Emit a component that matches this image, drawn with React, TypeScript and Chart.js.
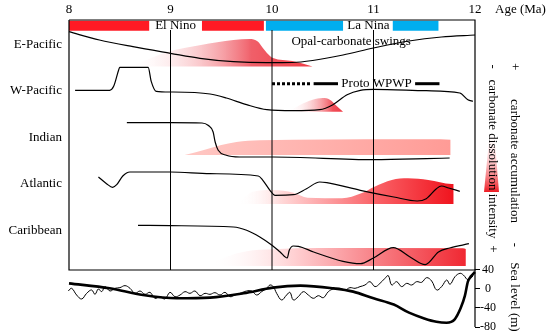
import React, { useEffect, useRef } from "react";
import { Chart, registerables } from "chart.js";
Chart.register(...registerables);

// ---------- data ----------
const AGE_TICKS = [8, 9, 10, 11, 12];
const SEA_TICKS = [40, 0, -40, -80];
const GRID_AGES = [9, 10, 11];

const REGIONS = ["E-Pacific", "W-Pacific", "Indian", "Atlantic", "Caribbean"];
const REGION_LEVELS = [225, 179.3, 132.7, 86, 39.3];

const EL_NINO_BARS = [[8.0, 8.79], [9.31, 9.92]];
const LA_NINA_BARS = [[9.94, 10.7], [11.19, 11.64]];
const PHASE_LABELS = ["El Nino", "La Nina"];
const PHASE_LABEL_AGES = [9.05, 10.95];
const PHASE_LEVEL = 244.3;

const WPWP_DOTTED = [10.0, 10.39];
const WPWP_SOLID = [[10.41, 10.65], [11.41, 11.65]];
const WPWP_LEVEL = 186.3;
const WPWP_LABEL_AGE = 11.03;
const OPAL_LABEL_AGE = 10.78;
const OPAL_LEVEL = 228.3;

// E-Pacific
const EPAC_LINE_AGE = [8.0, 8.3, 8.63, 9.0, 9.29, 9.62, 9.95, 10.2, 10.4, 10.7, 11.0, 11.35, 11.67, 12.0];
const EPAC_LINE = [238.3, 230, 223.3, 216.7, 211.7, 208.3, 207.3, 207.5, 209.5, 215, 222, 229, 233, 235];
const EPAC_FILL_AGE = [8.57, 8.7, 8.97, 9.3, 9.62, 9.78, 9.86, 9.91, 9.95, 10.01, 10.2, 10.4];
const EPAC_FILL = [203.5, 207.5, 218, 225, 230, 231, 228.5, 222, 217, 212, 209, 203.5];
const EPAC_BASE = 203.5;

// W-Pacific
const WPAC_LINE_AGE = [8.06, 8.4, 8.44, 8.49, 8.5, 8.78, 8.81, 8.86, 9.0, 9.39, 9.55, 9.75, 9.95, 10.21, 10.47, 10.6, 10.74, 10.87, 11.0, 11.52, 11.85, 11.93, 11.98];
const WPAC_LINE = [179.7, 179.7, 183.7, 200.3, 202.7, 202.7, 188.7, 178.7, 178, 176, 172, 165.3, 160.3, 159.3, 160.3, 165.3, 175.3, 179.7, 180.7, 179.3, 177, 170.3, 168.7];
const WPAC_FILL_AGE = [10.16, 10.28, 10.4, 10.5, 10.57, 10.64, 10.7];
const WPAC_FILL = [158.3, 165.3, 170.3, 172, 170.3, 163.7, 158.3];
const WPAC_BASE = 158.3;

// Indian
const IND_LINE_AGE = [8.57, 9.0, 9.31, 9.37, 9.42, 9.44, 9.47, 9.55, 9.68, 10.01, 11.0, 11.52, 11.75];
const IND_LINE = [147.3, 147.3, 147, 144.7, 138, 128, 119.7, 114.7, 113, 113, 110.3, 111.3, 112];
const IND_FILL_AGE = [9.14, 9.32, 9.49, 9.65, 9.88, 10.21, 11.66, 11.76];
const IND_FILL = [115, 119.7, 124.7, 128, 129.7, 130.3, 130.7, 130.2];
const IND_BASE = 115;

// Atlantic
const ATL_LINE_AGE = [8.29, 8.37, 8.43, 8.47, 8.53, 8.6, 9.0, 9.39, 9.865, 9.91, 9.98, 10.03, 10.21, 10.34, 10.47, 10.54, 10.87, 11.2, 11.43, 11.52, 11.62, 11.67, 11.74, 11.85];
const ATL_LINE = [93, 86.3, 82.7, 85.3, 94, 98, 98, 96.3, 94, 89.7, 79.7, 74.7, 75.3, 81.3, 88, 87.3, 79.7, 73, 69, 71.3, 81.3, 84, 82, 78.7];
const ATL_FILL_AGE = [9.66, 9.81, 10.01, 10.21, 10.35, 10.69, 10.88, 11.01, 11.18, 11.34, 11.54, 11.77, 11.79];
const ATL_FILL = [66, 78.3, 80, 77.3, 72.3, 71.7, 76.7, 83.3, 90, 91.7, 90, 86, 86];
const ATL_BASE = 66;

// Caribbean
const CAR_LINE_AGE = [8.68, 9.0, 9.62, 9.75, 9.88, 10.0, 10.08, 10.15, 10.17, 10.21, 10.26, 10.41, 10.7, 10.87, 11.0, 11.195, 11.36, 11.51, 11.64, 11.75, 11.94];
const CAR_LINE = [44.7, 44.3, 43, 39.7, 33, 24.7, 18, 12, 19.7, 24, 23.7, 18, 8.7, 6.3, 12, 22.3, 13, 5.3, 18, 22, 26.3];
const CAR_FILL_AGE = [9.36, 9.55, 9.75, 10.01, 10.47, 11.88, 11.91];
const CAR_FILL = [4, 13, 18.7, 20.7, 22, 21.7, 21];
const CAR_BASE = 4;

// Sea level (m)
const SEA_LONG_AGE = [8.0, 8.4, 8.73, 9.06, 9.39, 9.72, 10.01, 10.28, 10.6, 10.8, 11.0, 11.2, 11.35, 11.5, 11.62, 11.72, 11.8, 11.86, 11.9, 11.93, 11.96, 12.0];
const SEA_LONG = [11.3, 0.9, -13.1, -20, -18.6, -9.6, 2.3, 6.5, 0.9, -6, -20, -33, -50, -62, -69, -71, -64, -40, -15, 15, 26, 35];
const SEA_SHORT_AGE = [7.993, 8.026, 8.075, 8.125, 8.174, 8.223, 8.256, 8.289, 8.322, 8.355, 8.404, 8.453, 8.502, 8.552, 8.601, 8.65, 8.7, 8.749, 8.798, 8.847, 8.897, 8.946, 8.995, 9.044, 9.094, 9.143, 9.192, 9.241, 9.291, 9.34, 9.389, 9.438, 9.488, 9.537, 9.586, 9.635, 9.685, 9.75, 9.8, 9.849, 9.898, 9.947, 9.98, 10.013, 10.046, 10.095, 10.144, 10.177, 10.21, 10.259, 10.309, 10.358, 10.407, 10.457, 10.506, 10.555, 10.604, 10.67, 10.719, 10.768, 10.818, 10.867, 10.916, 10.965, 11.015, 11.064, 11.113, 11.146, 11.179, 11.228, 11.277, 11.327, 11.376, 11.425, 11.474, 11.524, 11.573, 11.622, 11.671, 11.721, 11.754, 11.803, 11.852, 11.885, 11.934, 11.983];
const SEA_SHORT = [-4.7, 0.9, -13.1, -21.4, -9.6, -2.6, -11.7, -0.5, -6.1, 4.4, -4.7, 0.9, 2.3, 6.5, 0.9, -9.6, -4.7, -11.7, -7.5, -20, -16.6, -21.4, -7.5, -16.6, -13.1, -6.1, -9.6, -4.7, -14.5, -9.6, -11.7, -8.2, -13.1, -7.5, -16.6, -13.1, -9.6, -4.7, -4.7, -13.1, -6.1, 0.9, 7.8, 4.4, -9.6, -23.5, -13.1, -7.5, -23.5, -16.6, -6.1, -13.1, -20, -14.5, -18.7, -6.1, -0.5, 0.9, -2.6, 2.3, 0.9, 4.4, 7.8, 14.8, 4.4, 11.3, 21.8, 27.4, 7.8, 14.8, 4.4, 11.3, 7.8, 14.8, 13.4, 23.2, 16.2, -2.6, 4.4, 18.3, 9.2, 25.3, 32.3, 28.8, 18.3, 27.4];

// ---------- helpers ----------
const pts = (xs: number[], ys: number[]) => xs.map((x, i) => ({ x, y: ys[i] }));
const seg = (a: number, b: number, v: number) => [{ x: a, y: v }, { x: b, y: v }];

function hGrad(stops: [number, string][]) {
  return (c: any) => {
    const chart = c.chart;
    if (!chart.chartArea || !chart.scales.x) return "rgba(0,0,0,0)";
    const a0 = stops[0][0];
    const a1 = stops[stops.length - 1][0];
    const x0 = chart.scales.x.getPixelForValue(a0);
    const x1 = chart.scales.x.getPixelForValue(a1);
    const g = chart.ctx.createLinearGradient(x0, 0, x1, 0);
    stops.forEach(([a, col]) => g.addColorStop((a - a0) / (a1 - a0), col));
    return g;
  };
}

const lineDs = (data: any[], extra: any = {}) => ({
  type: "line",
  data,
  borderColor: "#000",
  borderWidth: 1.2,
  pointRadius: 0,
  fill: false,
  clip: false,
  cubicInterpolationMode: "monotone",
  yAxisID: "y",
  ...extra,
});

const fillDs = (data: any[], base: number, bg: any) => ({
  type: "line",
  data,
  borderWidth: 0,
  borderColor: "rgba(0,0,0,0)",
  backgroundColor: bg,
  pointRadius: 0,
  fill: { value: base },
  clip: false,
  cubicInterpolationMode: "monotone",
  yAxisID: "y",
  order: 10,
});

const textPlugin = {
  id: "texts",
  afterDraw(chart: any) {
    const { ctx } = chart;
    const x = chart.scales.x;
    const y = chart.scales.y;
    ctx.save();
    ctx.fillStyle = "#000";
    ctx.font = '13px "Liberation Serif"';
    ctx.textBaseline = "middle";
    ctx.textAlign = "right";
    const left = x.getPixelForValue(8);
    REGIONS.forEach((r, i) => ctx.fillText(r, left - 7, y.getPixelForValue(REGION_LEVELS[i])));
    ctx.textAlign = "center";
    PHASE_LABELS.forEach((t, i) => ctx.fillText(t, x.getPixelForValue(PHASE_LABEL_AGES[i]), y.getPixelForValue(PHASE_LEVEL)));
    ctx.fillText("Opal-carbonate swings", x.getPixelForValue(OPAL_LABEL_AGE), y.getPixelForValue(OPAL_LEVEL));
    ctx.fillText("Proto WPWP", x.getPixelForValue(WPWP_LABEL_AGE), y.getPixelForValue(WPWP_LEVEL));
    ctx.textAlign = "left";
    ctx.fillText("Age (Ma)", 495, 10);

    // legend wedge
    const g = ctx.createLinearGradient(0, 130, 0, 192);
    g.addColorStop(0, "rgba(255,255,255,0)");
    g.addColorStop(1, "rgb(238,28,36)");
    ctx.fillStyle = g;
    ctx.beginPath();
    ctx.moveTo(490, 130);
    ctx.lineTo(494, 130);
    ctx.lineTo(499, 192);
    ctx.lineTo(484, 192);
    ctx.closePath();
    ctx.fill();

    ctx.fillStyle = "#000";
    const rot = (t: string, px: number, py: number) => {
      ctx.save();
      ctx.translate(px, py);
      ctx.rotate(Math.PI / 2);
      ctx.textAlign = "center";
      ctx.fillText(t, 0, 0);
      ctx.restore();
    };
    rot("-", 492, 66.7);
    rot("carbonate dissolution intensity", 492, 159);
    rot("+", 492, 249);
    rot("+", 514, 66.7);
    rot("carbonate accumulation", 514, 161);
    rot("-", 514, 245);
    rot("Sea level (m)", 514, 297);
    ctx.restore();
  },
};

export default function App() {
  const ref = useRef<HTMLCanvasElement>(null);
  useEffect(() => {
    if (!ref.current) return;
    const datasets: any[] = [];
    // frame
    datasets.push(lineDs([{ x: 8, y: 250 }, { x: 12, y: 250 }, { x: 12, y: 0 }, { x: 8, y: 0 }, { x: 8, y: 250 }], { cubicInterpolationMode: "default", tension: 0, borderWidth: 1.2 }));
    GRID_AGES.forEach((a) => datasets.push(lineDs([{ x: a, y: 0 }, { x: a, y: 240 }], { cubicInterpolationMode: "default", tension: 0, borderWidth: 1 })));
    // phase bars
    EL_NINO_BARS.forEach(([a, b]) => datasets.push(lineDs(seg(a, b, PHASE_LEVEL), { borderColor: "#ff1a24", borderWidth: 10, borderCapStyle: "butt", cubicInterpolationMode: "default" })));
    LA_NINA_BARS.forEach(([a, b]) => datasets.push(lineDs(seg(a, b, PHASE_LEVEL), { borderColor: "#00aeef", borderWidth: 10, borderCapStyle: "butt", cubicInterpolationMode: "default" })));
    // proto WPWP
    datasets.push(lineDs(seg(WPWP_DOTTED[0], WPWP_DOTTED[1], WPWP_LEVEL), { borderWidth: 3, borderDash: [3, 2], borderCapStyle: "butt", cubicInterpolationMode: "default" }));
    WPWP_SOLID.forEach(([a, b]) => datasets.push(lineDs(seg(a, b, WPWP_LEVEL), { borderWidth: 3, borderCapStyle: "butt", cubicInterpolationMode: "default" })));
    // region curves
    datasets.push(lineDs(pts(EPAC_LINE_AGE, EPAC_LINE)));
    datasets.push(lineDs(pts(WPAC_LINE_AGE, WPAC_LINE)));
    datasets.push(lineDs(pts(IND_LINE_AGE, IND_LINE)));
    datasets.push(lineDs(pts(ATL_LINE_AGE, ATL_LINE)));
    datasets.push(lineDs(pts(CAR_LINE_AGE, CAR_LINE)));
    // sea level
    datasets.push(lineDs(pts(SEA_LONG_AGE, SEA_LONG), { yAxisID: "ySea", borderWidth: 2.6 }));
    datasets.push(lineDs(pts(SEA_SHORT_AGE, SEA_SHORT), { yAxisID: "ySea", borderWidth: 1, cubicInterpolationMode: "default", tension: 0.4 }));
    datasets.push(lineDs([{ x: 12, y: -80 }, { x: 12, y: 40 }], { yAxisID: "ySea", cubicInterpolationMode: "default", borderWidth: 1.2 }));
    // fills
    datasets.push(fillDs(pts(EPAC_FILL_AGE, EPAC_FILL), EPAC_BASE, hGrad([[8.57, "rgba(255,255,255,0)"], [9.8, "rgb(240,95,105)"], [10.4, "rgb(240,60,70)"]])));
    datasets.push(fillDs(pts(WPAC_FILL_AGE, WPAC_FILL), WPAC_BASE, hGrad([[10.16, "rgba(255,255,255,0)"], [10.6, "rgb(240,80,90)"], [10.7, "rgb(240,60,70)"]])));
    datasets.push(fillDs(pts(IND_FILL_AGE, IND_FILL), IND_BASE, hGrad([[9.14, "rgb(255,200,196)"], [11.76, "rgb(255,155,150)"]])));
    datasets.push(fillDs(pts(ATL_FILL_AGE, ATL_FILL), ATL_BASE, hGrad([[9.66, "rgba(255,255,255,0)"], [10.1, "rgb(255,215,215)"], [11.0, "rgb(250,100,105)"], [11.79, "rgb(240,20,30)"]])));
    datasets.push(fillDs(pts(CAR_FILL_AGE, CAR_FILL), CAR_BASE, hGrad([[9.36, "rgba(255,255,255,0)"], [10.2, "rgb(255,210,212)"], [11.91, "rgb(240,40,50)"]])));

    const chart = new Chart(ref.current, {
      type: "line",
      data: { datasets },
      options: {
        animation: false,
        responsive: false,
        events: [],
        layout: { padding: { left: 69, top: 0, right: 0, bottom: 8 } },
        plugins: { legend: { display: false }, tooltip: { enabled: false } },
        scales: {
          x: {
            type: "linear",
            position: "top",
            min: 8,
            max: 12,
            afterBuildTicks: (s: any) => { s.ticks = AGE_TICKS.map((v) => ({ value: v })); },
            afterFit: (s: any) => { s.height = 20; },
            grid: { display: false, drawTicks: false },
            border: { display: false },
            ticks: { color: "#000", font: { family: "Liberation Serif", size: 13 }, padding: 3, maxRotation: 0 },
          },
          y: { type: "linear", display: false, min: -57, max: 250 },
          ySea: {
            type: "linear",
            position: "right",
            min: -80,
            max: 562,
            afterBuildTicks: (s: any) => { s.ticks = SEA_TICKS.map((v) => ({ value: v })); },
            afterFit: (s: any) => { s.width = 75; },
            grid: { drawOnChartArea: false, drawTicks: true, tickLength: 5, color: "#000", lineWidth: 1 },
            border: { display: false },
            ticks: { color: "#000", font: { family: "Liberation Serif", size: 12 }, padding: 0, crossAlign: "center" },
          },
        },
      } as any,
      plugins: [textPlugin],
    } as any);
    return () => chart.destroy();
  }, []);
  return (
    <div style={{ position: "absolute", left: 0, top: 0, width: 550, height: 335, background: "#fff" }}>
      <canvas ref={ref} width={550} height={335} />
    </div>
  );
}
